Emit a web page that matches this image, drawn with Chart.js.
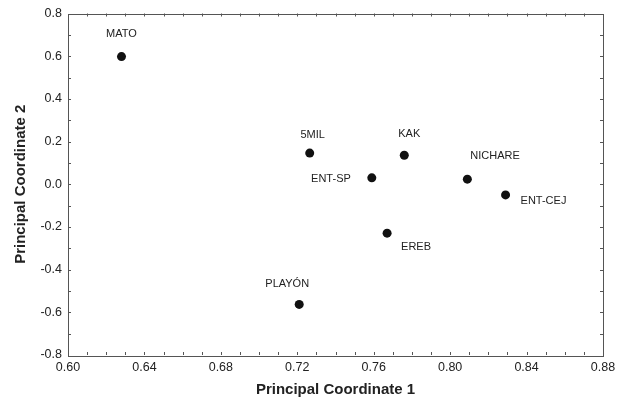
<!DOCTYPE html>
<html>
<head>
<meta charset="utf-8">
<script src="https://cdn.jsdelivr.net/npm/chart.js@4.4.1/dist/chart.umd.min.js"></script>
<style>
  html, body { margin: 0; padding: 0; background: #ffffff; }
  #wrap { width: 624px; height: 400px; }
</style>
</head>
<body>
<div id="wrap"><canvas id="c" width="624" height="400"></canvas></div>
<script>
// ---- data ----
const siteNames = ['MATO', '5MIL', 'KAK', 'ENT-SP', 'NICHARE', 'ENT-CEJ', 'EREB', 'PLAYÓN'];
const coord1    = [0.628, 0.7265, 0.776, 0.759, 0.809, 0.829, 0.767, 0.721];
const coord2    = [0.598, 0.146, 0.136, 0.030, 0.024, -0.050, -0.229, -0.563];
const xTickLabels = ['0.60', '0.64', '0.68', '0.72', '0.76', '0.80', '0.84', '0.88'];
const yTickLabels = ['-0.8', '-0.6', '-0.4', '-0.2', '0.0', '0.2', '0.4', '0.6', '0.8'];

// ---- label placement (style only) ----
const labelStyle = {
  'MATO':    { dx: 0,   dy: -23, align: 'center' },
  '5MIL':    { dx: 3,   dy: -18, align: 'center' },
  'KAK':     { dx: 5,   dy: -21, align: 'center' },
  'ENT-SP':  { dx: -21, dy: 1,   align: 'right' },
  'NICHARE': { dx: 3,   dy: -23, align: 'left' },
  'ENT-CEJ': { dx: 15,  dy: 6,   align: 'left' },
  'EREB':    { dx: 14,  dy: 14,  align: 'left' },
  'PLAYÓN':  { dx: -12, dy: -20, align: 'center' }
};

const FONT = '"Liberation Sans", Arial, Helvetica, sans-serif';
const INK = '#222222';

const points = coord1.map((x, i) => ({ x: x, y: coord2[i], label: siteNames[i] }));

const frameAndTicks = {
  id: 'frameAndTicks',
  afterDraw(chart) {
    const { ctx, chartArea: a, scales: { x, y } } = chart;
    ctx.save();
    ctx.strokeStyle = '#555555';
    ctx.lineWidth = 1;
    ctx.strokeRect(Math.round(a.left) + 0.5, Math.round(a.top) + 0.5,
                   Math.round(a.right - a.left), Math.round(a.bottom - a.top));
    ctx.beginPath();
    const tl = 3;
    // x minor ticks every 0.01
    for (let k = 1; k < 28; k++) {
      const px = Math.round(x.getPixelForValue(x.min + k * 0.01)) + 0.5;
      ctx.moveTo(px, a.bottom); ctx.lineTo(px, a.bottom - tl);
      ctx.moveTo(px, a.top); ctx.lineTo(px, a.top + tl);
    }
    // y minor ticks every 0.1
    for (let k = 1; k < 16; k++) {
      const py = Math.round(y.getPixelForValue(y.min + k * 0.1)) + 0.5;
      ctx.moveTo(a.left, py); ctx.lineTo(a.left + tl, py);
      ctx.moveTo(a.right, py); ctx.lineTo(a.right - tl, py);
    }
    ctx.stroke();
    ctx.restore();
  }
};

const pointLabels = {
  id: 'pointLabels',
  afterDatasetsDraw(chart) {
    const { ctx } = chart;
    const meta = chart.getDatasetMeta(0);
    ctx.save();
    ctx.font = '11px ' + FONT;
    ctx.fillStyle = INK;
    ctx.textBaseline = 'middle';
    meta.data.forEach((el, i) => {
      const name = siteNames[i];
      const s = labelStyle[name] || { dx: 0, dy: -18, align: 'center' };
      ctx.textAlign = s.align;
      ctx.fillText(name, el.x + s.dx, el.y + s.dy);
    });
    ctx.restore();
  }
};

new Chart(document.getElementById('c'), {
  type: 'scatter',
  data: {
    datasets: [{
      data: points,
      backgroundColor: '#111111',
      borderColor: '#111111',
      pointRadius: 4.5,
      pointHoverRadius: 4.5,
      borderWidth: 0
    }]
  },
  options: {
    responsive: false,
    animation: false,
    events: [],
    layout: { padding: { left: 0, top: 12, right: 21, bottom: 0 } },
    plugins: { legend: { display: false }, tooltip: { enabled: false } },
    scales: {
      x: {
        type: 'linear',
        min: 0.60, max: 0.88,
        afterFit: s => { s.height = 45; },
        afterBuildTicks: s => {
          s.ticks = xTickLabels.map(t => ({ value: parseFloat(t) }));
        },
        ticks: {
          padding: 5,
          color: INK,
          font: { family: FONT, size: 12.5 },
          maxRotation: 0,
          autoSkip: false,
          callback: (v) => {
            const lab = xTickLabels.find(t => Math.abs(parseFloat(t) - v) < 1e-6);
            return lab !== undefined ? lab : '';
          }
        },
        grid: { display: false, drawTicks: false },
        border: { display: false },
        title: {
          display: true,
          text: 'Principal Coordinate 1',
          color: INK,
          font: { family: FONT, size: 15, weight: 'bold' },
          padding: { top: 0, bottom: 1 }
        }
      },
      y: {
        type: 'linear',
        min: -0.8, max: 0.8,
        afterFit: s => { s.width = 68; },
        afterBuildTicks: s => {
          s.ticks = yTickLabels.map(t => ({ value: parseFloat(t) }));
        },
        ticks: {
          padding: 6,
          color: INK,
          font: { family: FONT, size: 12.5 },
          autoSkip: false,
          callback: (v) => {
            const lab = yTickLabels.find(t => Math.abs(parseFloat(t) - v) < 1e-6);
            return lab !== undefined ? lab : '';
          }
        },
        grid: { display: false, drawTicks: false },
        border: { display: false },
        title: {
          display: true,
          text: 'Principal Coordinate 2',
          color: INK,
          font: { family: FONT, size: 15, weight: 'bold' },
          padding: { top: 12, bottom: 0 }
        }
      }
    }
  },
  plugins: [frameAndTicks, pointLabels]
});
</script>
</body>
</html>
